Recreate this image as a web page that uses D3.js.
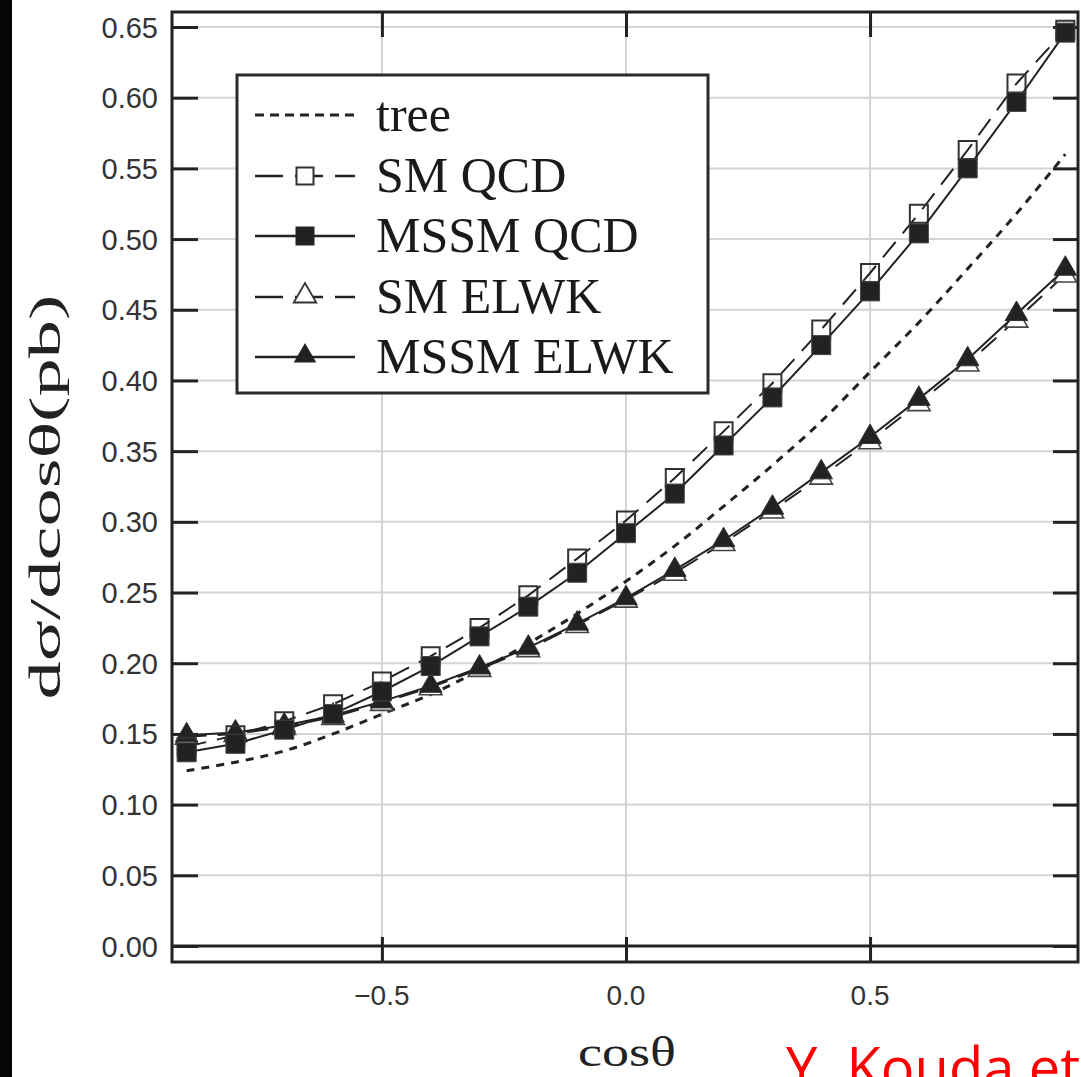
<!DOCTYPE html>
<html>
<head>
<meta charset="utf-8">
<script src="https://cdn.jsdelivr.net/npm/d3@7"></script>
<style>
  html, body { margin: 0; padding: 0; background: #fff; overflow: hidden; }
  svg { display: block; }
</style>
</head>
<body>
<svg id="chart" width="1081" height="1077"></svg>
<script>
// ---------------- data ----------------
const cosTheta = [-0.9,-0.8,-0.7,-0.6,-0.5,-0.4,-0.3,-0.2,-0.1,0.0,0.1,0.2,0.3,0.4,0.5,0.6,0.7,0.8,0.9];
const tree      = [0.124,0.130,0.138,0.150,0.164,0.178,0.195,0.214,0.235,0.258,0.283,0.311,0.340,0.371,0.406,0.441,0.479,0.518,0.560];
const smQCD     = [0.141,0.149,0.159,0.171,0.187,0.205,0.225,0.248,0.274,0.301,0.331,0.364,0.398,0.436,0.476,0.518,0.563,0.610,0.648];
const mssmQCD   = [0.137,0.143,0.153,0.164,0.180,0.198,0.219,0.240,0.264,0.292,0.320,0.354,0.388,0.425,0.463,0.504,0.550,0.597,0.646];
const smELWK    = [0.148,0.150,0.155,0.162,0.172,0.183,0.196,0.210,0.227,0.245,0.264,0.285,0.308,0.332,0.357,0.384,0.412,0.443,0.475];
const mssmELWK  = [0.149,0.151,0.156,0.163,0.173,0.184,0.197,0.211,0.228,0.246,0.266,0.287,0.310,0.335,0.360,0.387,0.415,0.447,0.479];
const yTicks = [0.00,0.05,0.10,0.15,0.20,0.25,0.30,0.35,0.40,0.45,0.50,0.55,0.60,0.65];
const yTickLabels = ["0.00","0.05","0.10","0.15","0.20","0.25","0.30","0.35","0.40","0.45","0.50","0.55","0.60","0.65"];
const xTicks = [-0.5, 0.0, 0.5];
const xTickLabels = ["\u22120.5","0.0","0.5"];
const legendLabels = ["tree","SM QCD","MSSM QCD","SM ELWK","MSSM ELWK"];
const xTitle = "cos\u03B8";
const yTitle = "d\u03C3/dcos\u03B8(pb)";
const credit = "Y. Kouda et al.";

// ---------------- layout ----------------
const L = 172, R = 1078, T = 12, B = 962;
const ink = "#222";
const svg = d3.select("#chart");
const x = d3.scaleLinear().domain([-0.93, 0.926]).range([L, R]);
const y = d3.scaleLinear().domain([0, 0.65]).range([946, 27]);

svg.append("rect").attr("width",1081).attr("height",1077).attr("fill","#fff");
// black strip on the left edge
svg.append("rect").attr("x",0).attr("y",0).attr("width",12).attr("height",1077).attr("fill","#060606");

// grid
const grid = svg.append("g").attr("stroke","#d4d4d4").attr("stroke-width",2);
grid.selectAll("line.gy").data(yTicks.filter(v => v > 0)).join("line")
  .attr("x1",L).attr("x2",R).attr("y1",d=>y(d)).attr("y2",d=>y(d));
grid.selectAll("line.gx").data(xTicks).join("line")
  .attr("x1",d=>x(d)).attr("x2",d=>x(d)).attr("y1",T).attr("y2",B);

// axes via d3 axis generators (ticks inward)
const yAxisL = d3.axisRight(y).tickValues(yTicks).tickSize(26).tickFormat("");
const gyl = svg.append("g").attr("transform",`translate(${L},0)`).call(yAxisL);
const yAxisR = d3.axisLeft(y).tickValues(yTicks).tickSize(25).tickFormat("");
const gyr = svg.append("g").attr("transform",`translate(${R},0)`).call(yAxisR);
const xAxisB = d3.axisTop(x).tickValues(xTicks).tickSize(25).tickFormat("");
const gxb = svg.append("g").attr("transform",`translate(0,${B})`).call(xAxisB);
const xAxisT = d3.axisBottom(x).tickValues(xTicks).tickSize(25).tickFormat("");
const gxt = svg.append("g").attr("transform",`translate(0,${T})`).call(xAxisT);
[gyl,gyr,gxb,gxt].forEach(g => {
  g.select(".domain").remove();
  g.selectAll(".tick line").attr("stroke",ink).attr("stroke-width",3);
});

// tick labels
svg.append("g").selectAll("text").data(yTicks).join("text")
  .attr("x",158).attr("y",d=>y(d)+10.5)
  .attr("text-anchor","end")
  .attr("font-family","'Liberation Sans', Arial, sans-serif")
  .attr("font-size",29).attr("fill","#333")
  .text((d,i)=>yTickLabels[i]);
svg.append("g").selectAll("text").data(xTicks).join("text")
  .attr("x",d=>x(d)).attr("y",1005)
  .attr("text-anchor","middle")
  .attr("font-family","'Liberation Sans', Arial, sans-serif")
  .attr("font-size",28).attr("fill","#333")
  .text((d,i)=>xTickLabels[i]);

// zero line and frame
svg.append("line").attr("x1",L).attr("x2",R).attr("y1",y(0)).attr("y2",y(0))
  .attr("stroke",ink).attr("stroke-width",3);
svg.append("rect").attr("x",L).attr("y",T).attr("width",R-L).attr("height",B-T)
  .attr("fill","none").attr("stroke",ink).attr("stroke-width",3);

// axis titles
svg.append("text").attr("x",627).attr("y",1066).attr("text-anchor","middle")
  .attr("font-family","'Liberation Serif','Times New Roman',serif")
  .attr("font-size",42).attr("fill","#222")
  .attr("textLength",98).attr("lengthAdjust","spacingAndGlyphs")
  .text(xTitle);
svg.append("text").attr("transform","translate(60,497) rotate(-90)")
  .attr("text-anchor","middle")
  .attr("font-family","'Liberation Serif','Times New Roman',serif")
  .attr("font-size",44).attr("fill","#222")
  .attr("textLength",405).attr("lengthAdjust","spacingAndGlyphs")
  .text(yTitle);

// ---------------- series ----------------
const plot = svg.append("g");
const pts = vals => cosTheta.map((c,i)=>[c, vals[i]]);
const lineStraight = d3.line().x(d=>x(d[0])).y(d=>y(d[1]));
const lineSmooth = d3.line().x(d=>x(d[0])).y(d=>y(d[1])).curve(d3.curveCatmullRom);

const sqSym = d3.symbol().type(d3.symbolSquare).size(19*19);
const triSym = d3.symbol().type(d3.symbolTriangle).size(220);

// tree
plot.append("path").attr("d",lineSmooth(pts(tree))).attr("fill","none")
  .attr("stroke",ink).attr("stroke-width",3).attr("stroke-dasharray","8,7");

// SM ELWK (open triangles, dashed)
plot.append("path").attr("d",lineStraight(pts(smELWK))).attr("fill","none")
  .attr("stroke",ink).attr("stroke-width",2).attr("stroke-dasharray","20,11");
plot.append("g").selectAll("path").data(pts(smELWK)).join("path")
  .attr("transform",d=>`translate(${x(d[0])},${y(d[1])+1})`)
  .attr("d",triSym).attr("fill","#fff").attr("stroke","#444").attr("stroke-width",1.6);

// MSSM ELWK (filled triangles, solid)
plot.append("path").attr("d",lineStraight(pts(mssmELWK))).attr("fill","none")
  .attr("stroke",ink).attr("stroke-width",2);
plot.append("g").selectAll("path").data(pts(mssmELWK)).join("path")
  .attr("transform",d=>`translate(${x(d[0])},${y(d[1])})`)
  .attr("d",triSym).attr("fill",ink).attr("stroke","#333").attr("stroke-width",1);

// SM QCD (open squares, dashed)
plot.append("path").attr("d",lineStraight(pts(smQCD))).attr("fill","none")
  .attr("stroke",ink).attr("stroke-width",2).attr("stroke-dasharray","20,11");
plot.append("g").selectAll("path").data(pts(smQCD)).join("path")
  .attr("transform",d=>`translate(${x(d[0])},${y(d[1])})`)
  .attr("d",d3.symbol().type(d3.symbolSquare).size(18*18))
  .attr("fill","none").attr("stroke","#333").attr("stroke-width",2);

// MSSM QCD (filled squares, solid)
plot.append("path").attr("d",lineStraight(pts(mssmQCD))).attr("fill","none")
  .attr("stroke",ink).attr("stroke-width",2);
plot.append("g").selectAll("path").data(pts(mssmQCD)).join("path")
  .attr("transform",d=>`translate(${x(d[0])},${y(d[1])})`)
  .attr("d",sqSym).attr("fill",ink).attr("stroke","#444").attr("stroke-width",1);

// ---------------- legend ----------------
const lg = svg.append("g");
lg.append("rect").attr("x",237).attr("y",75).attr("width",471).attr("height",318)
  .attr("fill","#fff").attr("stroke","#2a2a2a").attr("stroke-width",3);
const rowsY = [115,176,236,297,357];
const lx1 = 255, lx2 = 355, mx = 305;
const legendStyles = [
  {dash:"9,6", w:3, marker:null},
  {dash:"28,12", w:2.5, marker:"openSq"},
  {dash:null, w:2.5, marker:"fillSq"},
  {dash:"28,12", w:2.5, marker:"openTri"},
  {dash:null, w:2.5, marker:"fillTri"}
];
legendLabels.forEach((lab,i)=>{
  const st = legendStyles[i], yy = rowsY[i];
  const ln = lg.append("line").attr("x1",lx1).attr("x2",lx2).attr("y1",yy).attr("y2",yy)
    .attr("stroke",ink).attr("stroke-width",st.w);
  if (st.dash) ln.attr("stroke-dasharray",st.dash);
  if (st.marker === "openSq")
    lg.append("path").attr("transform",`translate(${mx},${yy})`)
      .attr("d",d3.symbol().type(d3.symbolSquare).size(17*17))
      .attr("fill","#fff").attr("stroke","#333").attr("stroke-width",2);
  if (st.marker === "fillSq")
    lg.append("path").attr("transform",`translate(${mx},${yy})`)
      .attr("d",sqSym).attr("fill",ink);
  if (st.marker === "openTri")
    lg.append("path").attr("transform",`translate(${mx},${yy-1})`)
      .attr("d",triSym).attr("fill","#fff").attr("stroke","#333").attr("stroke-width",1.8);
  if (st.marker === "fillTri")
    lg.append("path").attr("transform",`translate(${mx},${yy-1})`)
      .attr("d",triSym).attr("fill",ink);
  lg.append("text").attr("x",376).attr("y",yy+16)
    .attr("font-family","'Liberation Serif','Times New Roman',serif")
    .attr("font-size",50).attr("fill","#1a1a1a").text(lab);
});

// credit text (red, cut at the page edge as in the reference)
svg.append("text").attr("x",786).attr("y",1088)
  .attr("font-family","'Open Sans', sans-serif").attr("font-size",56)
  .attr("fill","#ff0000").text(credit);
</script>
</body>
</html>
